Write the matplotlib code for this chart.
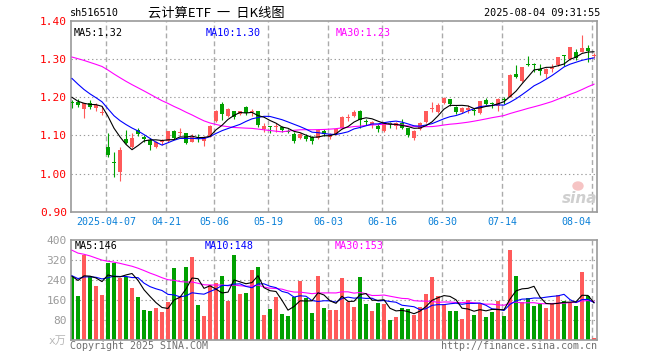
import numpy as np
import pandas as pd
import matplotlib.pyplot as plt
from matplotlib.patches import Ellipse

W, H = 660, 360

# closes / volumes of the days before the first visible candle (off chart,
# estimated so that the MA lines start where they do in the picture)
pre_close = [1.310, 1.318, 1.330, 1.335, 1.328, 1.329,
             1.340, 1.352, 1.362, 1.355, 1.348, 1.338, 1.330, 1.342, 1.335, 1.325,
             1.330, 1.322, 1.318, 1.313,
             1.330, 1.322, 1.290, 1.280, 1.269,
             1.232, 1.210, 1.190, 1.183]
pre_vol = [520, 480, 450, 470, 430, 447,
           420, 390, 430, 380, 410, 400, 420, 390, 405, 400,
           350, 330, 345, 333,
           290, 274, 250, 236, 245,
           260, 248, 262, 252]

# daily candles 2025-03-27 .. 2025-08-04
opens = [1.185, 1.188, 1.168, 1.186, 1.171, 1.160, 1.071, 1.030, 1.005, 1.090,
         1.071, 1.114, 1.097, 1.088, 1.071, 1.083, 1.086, 1.112, 1.106, 1.106,
         1.084, 1.093, 1.085, 1.097, 1.139, 1.182, 1.152, 1.164, 1.156, 1.175,
         1.161, 1.164, 1.116, 1.122, 1.122, 1.123, 1.111, 1.104, 1.093, 1.099,
         1.095, 1.093, 1.113, 1.095, 1.104, 1.120, 1.146, 1.151, 1.165, 1.135,
         1.127, 1.126, 1.112, 1.130, 1.126, 1.132, 1.119, 1.094, 1.117, 1.134,
         1.168, 1.162, 1.184, 1.195, 1.175, 1.162, 1.166, 1.166, 1.158, 1.193,
         1.183, 1.177, 1.194, 1.200, 1.261, 1.242, 1.287, 1.285, 1.273, 1.261,
         1.275, 1.284, 1.309, 1.300, 1.319, 1.319, 1.328, 1.309]
highs = [1.193, 1.195, 1.184, 1.194, 1.186, 1.177, 1.106, 1.058, 1.071, 1.114,
         1.106, 1.119, 1.101, 1.093, 1.086, 1.090, 1.112, 1.114, 1.119, 1.106,
         1.103, 1.103, 1.099, 1.127, 1.167, 1.188, 1.171, 1.164, 1.164, 1.178,
         1.169, 1.164, 1.132, 1.126, 1.132, 1.126, 1.116, 1.108, 1.106, 1.104,
         1.099, 1.117, 1.117, 1.106, 1.119, 1.152, 1.155, 1.167, 1.167, 1.142,
         1.139, 1.129, 1.136, 1.136, 1.136, 1.143, 1.120, 1.114, 1.134, 1.164,
         1.187, 1.184, 1.201, 1.195, 1.177, 1.174, 1.180, 1.171, 1.190, 1.197,
         1.188, 1.197, 1.200, 1.261, 1.284, 1.280, 1.308, 1.290, 1.287, 1.277,
         1.286, 1.304, 1.310, 1.330, 1.325, 1.363, 1.337, 1.316]
lows = [1.171, 1.175, 1.145, 1.168, 1.165, 1.154, 1.045, 0.992, 0.982, 1.078,
        1.066, 1.099, 1.084, 1.062, 1.066, 1.075, 1.084, 1.090, 1.099, 1.077,
        1.084, 1.084, 1.072, 1.095, 1.136, 1.140, 1.149, 1.142, 1.154, 1.154,
        1.151, 1.121, 1.110, 1.106, 1.110, 1.110, 1.106, 1.081, 1.090, 1.086,
        1.079, 1.090, 1.099, 1.090, 1.101, 1.116, 1.139, 1.147, 1.120, 1.127,
        1.119, 1.108, 1.108, 1.120, 1.116, 1.116, 1.095, 1.088, 1.114, 1.132,
        1.162, 1.158, 1.182, 1.177, 1.155, 1.160, 1.160, 1.154, 1.155, 1.180,
        1.171, 1.165, 1.182, 1.200, 1.249, 1.241, 1.282, 1.267, 1.258, 1.251,
        1.267, 1.282, 1.282, 1.297, 1.297, 1.317, 1.293, 1.302]
closes = [1.184, 1.180, 1.184, 1.175, 1.180, 1.162, 1.049, 1.029, 1.062, 1.081,
          1.093, 1.103, 1.090, 1.075, 1.082, 1.084, 1.112, 1.093, 1.110, 1.080,
          1.097, 1.092, 1.095, 1.125, 1.165, 1.156, 1.169, 1.147, 1.164, 1.158,
          1.164, 1.127, 1.126, 1.121, 1.123, 1.114, 1.110, 1.086, 1.104, 1.090,
          1.086, 1.114, 1.103, 1.103, 1.116, 1.147, 1.147, 1.162, 1.141, 1.134,
          1.134, 1.116, 1.134, 1.129, 1.132, 1.120, 1.101, 1.112, 1.132, 1.164,
          1.169, 1.180, 1.199, 1.182, 1.162, 1.171, 1.172, 1.165, 1.190, 1.182,
          1.182, 1.195, 1.192, 1.258, 1.252, 1.278, 1.285, 1.284, 1.269, 1.274,
          1.280, 1.304, 1.307, 1.330, 1.303, 1.328, 1.322, 1.311]
volumes = [253, 176, 340, 256, 216, 180, 309, 309, 249, 254,
           209, 173, 120, 116, 129, 112, 154, 289, 171, 293,
           333, 140, 96, 222, 227, 256, 156, 340, 184, 189,
           280, 293, 100, 124, 173, 104, 96, 173, 237, 170,
           108, 256, 129, 120, 121, 249, 152, 132, 252, 144,
           117, 148, 144, 81, 92, 128, 124, 101, 132, 184,
           252, 176, 144, 116, 116, 84, 160, 100, 147, 92,
           113, 157, 96, 360, 256, 154, 167, 137, 144, 129,
           144, 180, 156, 148, 137, 274, 176, 9]

tick_idx = [6, 16, 24, 33, 43, 52, 62, 72, 87]
tick_labels = ['2025-04-07', '04-21', '05-06', '05-19', '06-03',
               '06-16', '06-30', '07-14', '08-04']
price_ticks = [0.90, 1.00, 1.10, 1.20, 1.30, 1.40]
vol_ticks = [0, 80, 160, 240, 320, 400]

RED = '#ff5a5a'
GREEN = '#00a000'
MONO = 'DejaVu Sans Mono'

n = len(closes)
x = np.arange(n)
o = np.array(opens)
c = np.array(closes)
colors = [RED if c[i] >= o[i] else GREEN for i in range(n)]

npre = len(pre_close)
call = pd.Series(pre_close + closes)
vall = pd.Series(pre_vol + volumes)
ma_p = {k: call.rolling(k).mean().values[npre:] for k in (5, 10, 30)}
ma_v = {k: vall.rolling(k).mean().values[npre:] for k in (5, 10, 30)}
ma_col = {5: 'black', 10: '#0000ff', 30: '#ff00ff'}


def fx(px):
    return px / W


def fy(py):
    return 1 - py / H


fig = plt.figure(figsize=(W / 100, H / 100), dpi=100)
ax = fig.add_axes([fx(71), fy(212), fx(597) - fx(71), fy(20.7) - fy(212)])
axv = fig.add_axes([fx(71), fy(340), fx(597) - fx(71), fy(240) - fy(340)])

xlo = -1 / 6
xhi = xlo + 526 / 6
for a in (ax, axv):
    a.set_xlim(xlo, xhi)
    for s in a.spines.values():
        s.set_color('#9a9a9a')
        s.set_linewidth(1.2)
    a.set_xticks([])
    a.tick_params(axis='y', length=0, pad=3)
    for t in tick_idx:
        a.axvline(t - 0.3, color='#ababab', lw=1.0, ls=(0, (3.5, 2.2)), zorder=0)

# price panel
ax.set_ylim(0.90, 1.40)
for p in price_ticks[1:-1]:
    ax.axhline(p, color='#9a9a9a', lw=0.8, ls=(0, (1.2, 2.5)), zorder=0)
ax.set_yticks(price_ticks)
ax.set_yticklabels(['%.2f' % p for p in price_ticks], color='red',
                   fontfamily=MONO, fontsize=8)

ax.vlines(x, lows, highs, colors=colors, lw=0.8, zorder=2)
body = np.maximum(np.abs(c - o), 0.0026)
ax.bar(x, body, bottom=np.minimum(o, c), width=0.8, color=colors,
       linewidth=0, zorder=3)
for k in (30, 10, 5):
    ax.plot(x, ma_p[k], color=ma_col[k], lw=0.8, zorder=4)

for t, lab in zip(tick_idx, tick_labels):
    if t == tick_idx[-1]:
        ax.text(86.5, -0.05, lab, transform=ax.get_xaxis_transform(),
                ha='right', va='center', color='#0a80d8', fontfamily=MONO,
                fontsize=7.2)
    else:
        ax.text(t - 0.3, -0.05, lab, transform=ax.get_xaxis_transform(),
                ha='center', va='center', color='#0a80d8', fontfamily=MONO,
                fontsize=7.2)

# volume panel
axv.set_ylim(0, 400)
for v in vol_ticks[1:-1]:
    axv.axhline(v, color='#9a9a9a', lw=0.8, ls=(0, (1.2, 2.5)), zorder=0)
axv.bar(x, volumes, width=0.8, color=colors, linewidth=0, zorder=2)
for k in (30, 10, 5):
    axv.plot(x, ma_v[k], color=ma_col[k], lw=0.8, zorder=4)
axv.set_yticks(vol_ticks)
axv.set_yticklabels(['x万'] + [str(v) for v in vol_ticks[1:]], color='#9a9a9a',
                    fontfamily=[MONO, 'Noto Sans CJK SC'], fontsize=8)
axv.get_yticklabels()[0].set_color('#b8b8b8')

# legends / header / footer
fig.text(fx(74), fy(33), 'MA5:1.32', color='black', fontfamily=MONO, fontsize=7.3, va='center')
fig.text(fx(206), fy(33), 'MA10:1.30', color='#0000ff', fontfamily=MONO, fontsize=7.3, va='center')
fig.text(fx(336), fy(33), 'MA30:1.23', color='#ff00ff', fontfamily=MONO, fontsize=7.3, va='center')
fig.text(fx(75), fy(246), 'MA5:146', color='black', fontfamily=MONO, fontsize=7.3, va='center')
fig.text(fx(205), fy(246), 'MA10:148', color='#0000ff', fontfamily=MONO, fontsize=7.3, va='center')
fig.text(fx(335), fy(246), 'MA30:153', color='#ff00ff', fontfamily=MONO, fontsize=7.3, va='center')

fig.text(fx(70), fy(13), 'sh516510', color='black', fontfamily=MONO, fontsize=7.3, va='center')
fig.text(fx(216), fy(13), '云计算ETF  一  日K线图', color='black',
         fontfamily=['Noto Sans CJK SC', 'DejaVu Sans'], fontsize=9.5,
         ha='center', va='center')
fig.text(fx(600), fy(13), '2025-08-04 09:31:55', color='black', fontfamily=MONO,
         fontsize=7.3, ha='right', va='center')
fig.text(fx(70), fy(346), 'Copyright 2025 SINA.COM', color='#707070', fontfamily=MONO,
         fontsize=7.2, va='center')
fig.text(fx(597), fy(346), 'http://finance.sina.com.cn', color='#707070', fontfamily=MONO,
         fontsize=7.2, ha='right', va='center')

# sina watermark
fig.patches.append(Ellipse((fx(578), fy(186)), fx(10), 8 / H, color='#f6c4c4',
                           transform=fig.transFigure, zorder=5))
fig.text(fx(580), fy(198), 'sina', color='#cfcfcf', fontsize=11, fontweight='bold',
         fontstyle='italic', ha='center', va='center', zorder=6)

fig.savefig('out.png', dpi=100)
